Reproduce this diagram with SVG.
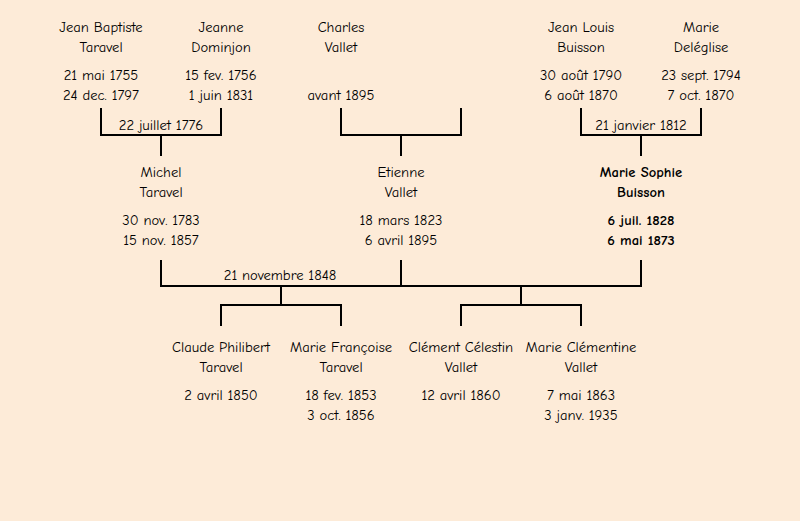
<svg xmlns="http://www.w3.org/2000/svg" width="800" height="521" viewBox="0 0 800 521">
<style>
text{font-family:"Comic Sans MS","Comic Neue","Liberation Sans",sans-serif;font-size:14.6px;fill:#000;text-anchor:middle}
.b{font-weight:bold}
.c path{fill:none;stroke:#000;stroke-width:2}
</style>
<rect width="800" height="521" fill="#fdebd8"/>
<g class="c" id="connectors">
<path d="M101,108V135H221V108M161,135V156"/>
<path d="M341,108V135H461V108M401,135V156"/>
<path d="M581,108V135H701V108M641,135V156"/>
<path d="M161,260V286H641V260M401,260V286"/>
<path d="M281,286V305M221,326V305H341V326"/>
<path d="M521,286V305M461,326V305H581V326"/>
</g>
<g id="labels">
<text x="161" y="130">22 juillet 1776</text>
<text x="641" y="130">21 janvier 1812</text>
<text x="280" y="280">21 novembre 1848</text>
</g>
<g id="jean-baptiste"><text x="101" y="32">Jean Baptiste</text><text x="101" y="52">Taravel</text><text x="101" y="80">21 mai 1755</text><text x="101" y="100">24 dec. 1797</text></g>
<g id="jeanne"><text x="221" y="32">Jeanne</text><text x="221" y="52">Dominjon</text><text x="221" y="80">15 fev. 1756</text><text x="221" y="100">1 juin 1831</text></g>
<g id="charles"><text x="341" y="32">Charles</text><text x="341" y="52">Vallet</text><text x="341" y="100">avant 1895</text></g>
<g id="jean-louis"><text x="581" y="32">Jean Louis</text><text x="581" y="52">Buisson</text><text x="581" y="80">30 août 1790</text><text x="581" y="100">6 août 1870</text></g>
<g id="marie-d"><text x="701" y="32">Marie</text><text x="701" y="52">Deléglise</text><text x="701" y="80">23 sept. 1794</text><text x="701" y="100">7 oct. 1870</text></g>
<g id="michel"><text x="161" y="177">Michel</text><text x="161" y="197">Taravel</text><text x="161" y="225">30 nov. 1783</text><text x="161" y="245">15 nov. 1857</text></g>
<g id="etienne"><text x="401" y="177">Etienne</text><text x="401" y="197">Vallet</text><text x="401" y="225">18 mars 1823</text><text x="401" y="245">6 avril 1895</text></g>
<g id="marie-sophie"><text class="b" x="641" y="177">Marie Sophie</text><text class="b" x="641" y="197">Buisson</text><text class="b" x="641" y="225">6 juil. 1828</text><text class="b" x="641" y="245">6 mai 1873</text></g>
<g id="claude"><text x="221" y="352">Claude Philibert</text><text x="221" y="372">Taravel</text><text x="221" y="400">2 avril 1850</text></g>
<g id="marie-f"><text x="341" y="352">Marie Françoise</text><text x="341" y="372">Taravel</text><text x="341" y="400">18 fev. 1853</text><text x="341" y="420">3 oct. 1856</text></g>
<g id="clement"><text x="461" y="352">Clément Célestin</text><text x="461" y="372">Vallet</text><text x="461" y="400">12 avril 1860</text></g>
<g id="marie-c"><text x="581" y="352">Marie Clémentine</text><text x="581" y="372">Vallet</text><text x="581" y="400">7 mai 1863</text><text x="581" y="420">3 janv. 1935</text></g>
</svg>
